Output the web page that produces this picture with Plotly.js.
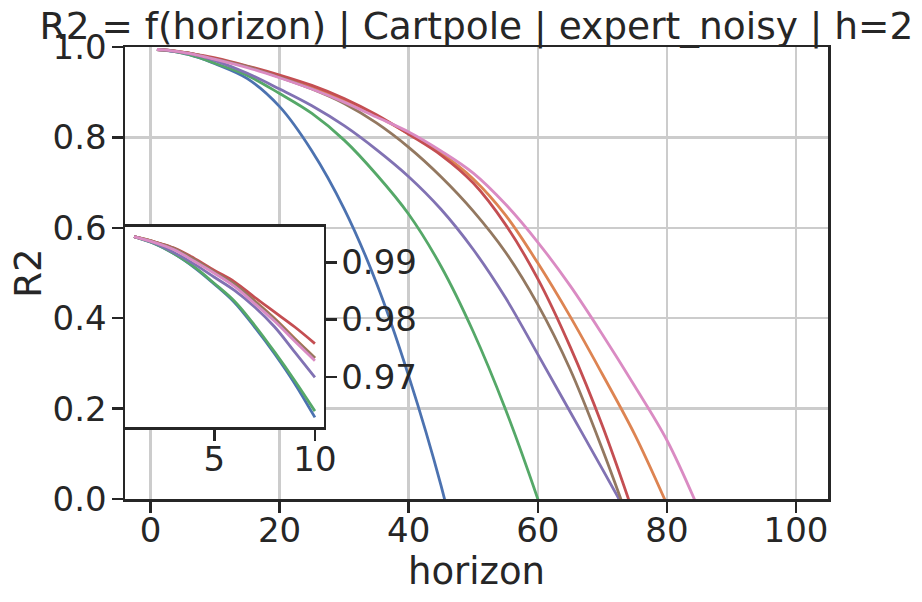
<!DOCTYPE html>
<html>
<head>
<meta charset="utf-8">
<script src="https://cdn.plot.ly/plotly-3.0.1.min.js"></script>
<style>
  html, body { margin: 0; padding: 0; background: #fff; }
  #chart { width: 922px; height: 602px; }
</style>
</head>
<body>
<div id="chart"></div>
<script>
// horizon steps shared by all runs
const horizon = [1, 2, 3, 4, 5, 6, 7, 8, 9, 10, 15, 20, 25, 30, 35, 40, 45, 50, 55, 60, 65, 70, 75, 80, 85];

// R2 per run
const r2Blue   = [0.9945, 0.9933, 0.9915, 0.9891, 0.9862, 0.9830, 0.9787, 0.9740, 0.9688, 0.9629, 0.930, 0.868, 0.770, 0.642, 0.478, 0.272, 0.030, -0.27];
const r2Orange = [0.9945, 0.9936, 0.9924, 0.9905, 0.9884, 0.9863, 0.9833, 0.9802, 0.9767, 0.9733, 0.9565, 0.935, 0.912, 0.883, 0.848, 0.808, 0.765, 0.708, 0.628, 0.522, 0.404, 0.276, 0.143, -0.012];
const r2Green  = [0.9945, 0.9933, 0.9915, 0.9892, 0.9863, 0.9832, 0.9790, 0.9743, 0.9693, 0.9640, 0.937, 0.897, 0.853, 0.794, 0.718, 0.630, 0.515, 0.370, 0.198, 0.000, -0.22];
const r2Red    = [0.9945, 0.9936, 0.9925, 0.9907, 0.9886, 0.9866, 0.9839, 0.9813, 0.9787, 0.9758, 0.958, 0.938, 0.915, 0.886, 0.850, 0.807, 0.761, 0.699, 0.607, 0.487, 0.337, 0.162, -0.040];
const r2Purple = [0.9945, 0.9934, 0.9917, 0.9897, 0.9874, 0.9851, 0.9822, 0.9787, 0.9743, 0.9699, 0.942, 0.907, 0.870, 0.826, 0.773, 0.713, 0.641, 0.552, 0.445, 0.320, 0.193, 0.066, -0.062];
const r2Brown  = [0.9945, 0.9936, 0.9924, 0.9905, 0.9883, 0.9862, 0.9832, 0.9801, 0.9766, 0.9733, 0.9565, 0.933, 0.907, 0.875, 0.832, 0.778, 0.713, 0.637, 0.546, 0.430, 0.287, 0.110, -0.085];
const r2Pink   = [0.9945, 0.9935, 0.9922, 0.9902, 0.9881, 0.9858, 0.9828, 0.9797, 0.9762, 0.9728, 0.9545, 0.932, 0.907, 0.878, 0.845, 0.812, 0.770, 0.721, 0.652, 0.568, 0.472, 0.364, 0.250, 0.130, -0.025];

const runs = [
  { y: r2Blue,   color: '#4C72B0' },
  { y: r2Orange, color: '#DD8452' },
  { y: r2Green,  color: '#55A868' },
  { y: r2Red,    color: '#C44E52' },
  { y: r2Purple, color: '#8172B3' },
  { y: r2Brown,  color: '#937860' },
  { y: r2Pink,   color: '#DA8BC3' },
];

const mainTicksX = [0, 20, 40, 60, 80, 100];
const mainTicksY = [0, 0.2, 0.4, 0.6, 0.8, 1.0];
const insetTicksX = [5, 10];
const insetTicksY = [0.97, 0.98, 0.99];
const insetMaxH = 10;

const ink = '#262626';
const font = 'DejaVu Sans, sans-serif';

const traces = [];
runs.forEach(r => {
  traces.push({
    x: horizon.slice(0, r.y.length), y: r.y,
    type: 'scatter', mode: 'lines',
    line: { color: r.color, width: 2.8, shape: 'spline', smoothing: 1 },
    xaxis: 'x', yaxis: 'y', showlegend: false, hoverinfo: 'skip'
  });
});
runs.forEach(r => {
  const n = horizon.filter(h => h <= insetMaxH).length;
  traces.push({
    x: horizon.slice(0, n), y: r.y.slice(0, n),
    type: 'scatter', mode: 'lines',
    line: { color: r.color, width: 2.8, shape: 'spline', smoothing: 1 },
    xaxis: 'x2', yaxis: 'y2', showlegend: false, hoverinfo: 'skip'
  });
});

const axisCommon = {
  showline: true, mirror: true, linecolor: ink, linewidth: 2.5,
  ticks: 'outside', ticklen: 11, tickwidth: 2.5, tickcolor: ink,
  zeroline: false, tickfont: { family: font, size: 34, color: ink }
};

const layout = {
  width: 922, height: 602,
  margin: { l: 125, r: 94, t: 47, b: 103 },
  paper_bgcolor: '#fff', plot_bgcolor: '#fff',
  font: { family: font, color: ink },
  title: {
    text: 'R2 = f(horizon) | Cartpole | expert_noisy | h=2',
    font: { family: font, size: 37.5, color: ink },
    x: 0.5, xref: 'paper', xanchor: 'center',
    y: 1 - 26 / 602, yref: 'container', yanchor: 'middle'
  },
  xaxis: Object.assign({}, axisCommon, {
    domain: [0, 1], anchor: 'y',
    range: [-3.95, 104.95], tickvals: mainTicksX,
    ticklabelstandoff: -11,
    showgrid: true, gridcolor: '#cccccc', gridwidth: 2.5,
    title: { text: 'horizon', font: { family: font, size: 37, color: ink }, standoff: 2 }
  }),
  yaxis: Object.assign({}, axisCommon, {
    domain: [0, 1], anchor: 'x',
    range: [0, 1], tickvals: mainTicksY, tickformat: '.1f',
    ticklabelstandoff: -2,
    showgrid: true, gridcolor: '#cccccc', gridwidth: 2.5,
    title: { text: 'R2', font: { family: font, size: 37, color: ink }, standoff: 0 }
  }),
  xaxis2: Object.assign({}, axisCommon, {
    domain: [0, 0.283], anchor: 'y2',
    range: [0.55, 10.45], tickvals: insetTicksX,
    ticklabelstandoff: -10,
    showgrid: false
  }),
  yaxis2: Object.assign({}, axisCommon, {
    domain: [0.159, 0.602], anchor: 'x2', side: 'right',
    range: [0.9612, 0.9962], tickvals: insetTicksY,
    ticklabelstandoff: -3,
    showgrid: false
  })
};

Plotly.newPlot('chart', traces, layout, { displayModeBar: false, staticPlot: true });
</script>
</body>
</html>
